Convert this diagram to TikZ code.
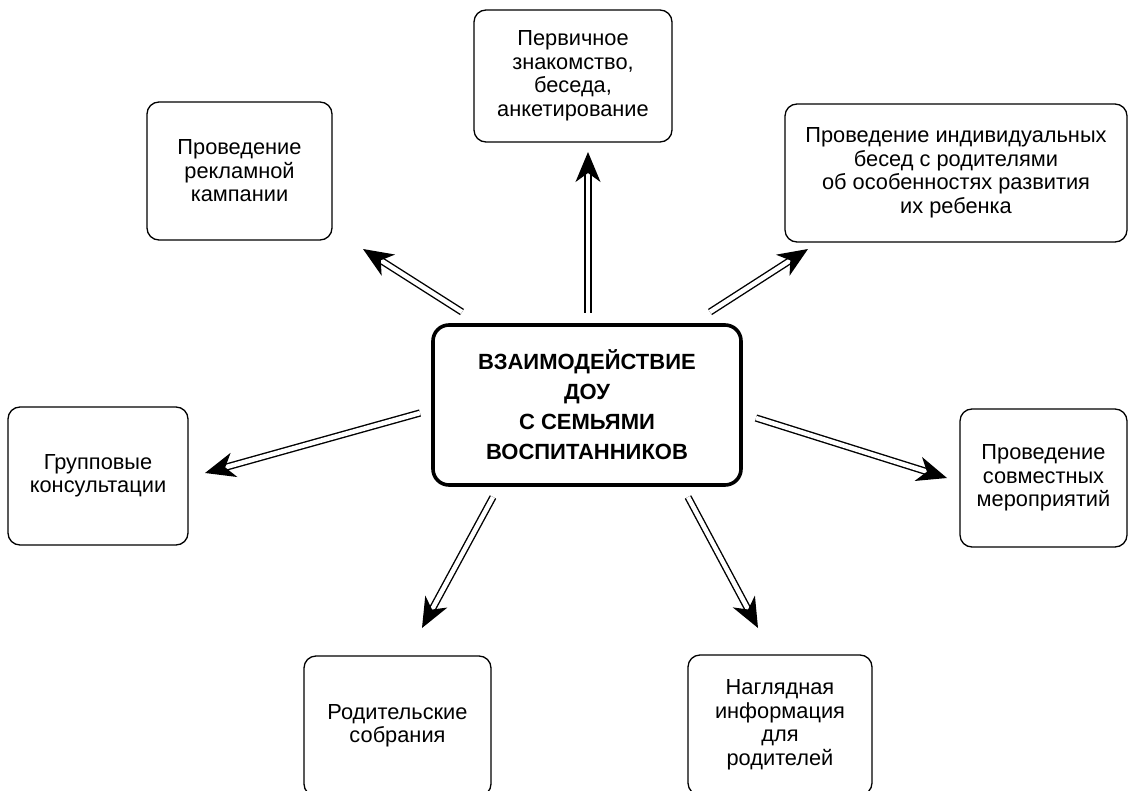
\documentclass[tikz,border=0pt]{standalone}
\usepackage{fontspec}
\setmainfont{Liberation Sans}
\usetikzlibrary{arrows.meta}
\usetikzlibrary{calc}

\tikzset{
  box/.style={draw, line width=1.3pt, rounded corners=12pt, align=center, inner sep=0pt,
    font=\fontsize{21.8}{23.5}\selectfont},
  mainbox/.style={draw, line width=3.6pt, rounded corners=16pt, align=center, inner sep=0pt,
    font=\bfseries\fontsize{22}{30}\selectfont},
  shaft/.style={double, double distance=4.5pt, line width=1.4pt, shorten >=17pt},
  head/.style={line width=1.4pt, -{Stealth[length=30pt,width=25pt,inset=9pt]}}
}

\begin{document}
\begin{tikzpicture}[x=1pt, y=-1pt]
              \useasboundingbox (0, 0) rectangle (1129, 791);
              % boxes
              \node[mainbox, minimum width=308pt, minimum height=160pt] (main) at (587, 405) {ВЗАИМОДЕЙСТВИЕ\\ДОУ\\С СЕМЬЯМИ\\ВОСПИТАННИКОВ};
              \node[box, minimum width=185pt, minimum height=138pt] (rekl) at (239.5, 171) {Проведение\\рекламной\\кампании};
              \node[box, minimum width=198pt, minimum height=132pt] (perv) at (573, 76) {Первичное\\знакомство,\\беседа,\\анкетирование};
              \node[box, minimum width=342pt, minimum height=138pt] (indiv) at (956, 173) {Проведение индивидуальных\\бесед с родителями\\об особенностях развития\\их ребенка};
              \node[box, minimum width=180pt, minimum height=138pt] (grup) at (98, 476) {Групповые\\консультации};
              \node[box, minimum width=167pt, minimum height=138pt] (sovm) at (1043.5, 478) {Проведение\\совместных\\мероприятий};
              \node[box, minimum width=187pt, minimum height=140pt] (rodit) at (397.5, 726) {Родительские\\собрания};
              \node[box, minimum width=184pt, minimum height=140pt] (nagl) at (780, 725) {Наглядная\\информация\\для\\родителей};
              % arrow ends
              \coordinate (s1) at (588, 313);   \coordinate (e1) at (588, 152);
              \coordinate (s2) at (462, 312);   \coordinate (e2) at (363, 249);
              \coordinate (s3) at (710, 312);   \coordinate (e3) at (808, 249);
              \coordinate (s4) at (420, 413);   \coordinate (e4) at (205, 473);
              \coordinate (s5) at (756, 418);   \coordinate (e5) at (947, 478);
              \coordinate (s6) at (493, 497);   \coordinate (e6) at (422, 628);
              \coordinate (s7) at (688, 497);   \coordinate (e7) at (758, 628);
              \foreach \i in {1,...,7} {
                \draw[shaft] (s\i) -- (e\i);
                \draw[head] ($(e\i)!18pt!(s\i)$) -- (e\i);
              }
            \end{tikzpicture}
\end{document}
